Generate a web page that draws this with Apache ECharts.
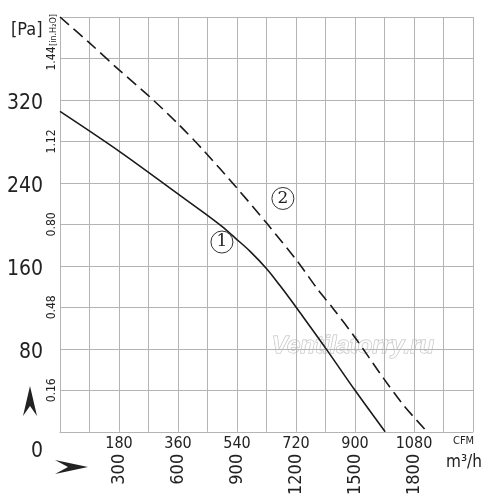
<!DOCTYPE html>
<html><head><meta charset="utf-8">
<script src="https://cdn.jsdelivr.net/npm/echarts@6/dist/echarts.min.js"></script>
<style>html,body{margin:0;padding:0;background:#fff}#c{width:500px;height:498px}</style>
</head><body><div id="c"></div>
<script>
// Flow in CFM, pressure in Pa
var curve1Flow = [0, 183, 366, 427, 494, 534, 580, 631, 671, 702, 732, 814, 900, 992];
var curve1Pa   = [309, 270, 228, 214, 198, 187, 174, 157, 141, 128, 115, 79, 40, 0];
var curve2Flow = [0, 90, 180, 274, 360, 436, 540, 631, 723, 787, 833, 900, 986, 1050, 1120];
var curve2Pa   = [400, 375, 349, 323, 297, 272, 235, 201, 165, 137, 119, 91, 52, 25, 0];
var paTicks    = [0, 80, 160, 240, 320];
var inchTickPa = [40, 120, 200, 280, 360];
var inchLabels = ['0.16', '0.48', '0.80', '1.12', '1.44'];
var cfmTicks   = [180, 360, 540, 720, 900, 1080];
var m3hLabels  = ['300', '600', '900', '1200', '1500', '1800'];
var curveNames = ['1', '2'];
var labelPos   = [[494, 183], [680, 225]];

var FONT = "'Liberation Sans Narrow','DejaVu Sans Condensed','Liberation Sans',sans-serif";
function zip(a, b) { return a.map(function (v, i) { return [v, b[i]]; }); }

var chart = echarts.init(document.getElementById('c'));
var gridColor = '#b4b4b4';
chart.setOption({
  animation: false,
  backgroundColor: '#fff',
  grid: { left: 60, right: 27, top: 17, bottom: 66 },
  xAxis: [{
    type: 'value', min: 0, max: 1260, interval: 90,
    axisLine: { lineStyle: { color: gridColor } }, axisTick: { show: false },
    splitLine: { show: true, lineStyle: { color: gridColor, width: 1 } },
    axisLabel: { margin: 4, fontFamily: FONT, fontSize: 16, color: '#222',
      formatter: function (v) { return cfmTicks.indexOf(v) >= 0 ? String(v) : ''; } }
  }, {
    type: 'value', min: 0, max: 1260, interval: 90, position: 'bottom',
    axisLine: { show: false }, axisTick: { show: false }, splitLine: { show: false },
    axisLabel: { margin: 22, rotate: 90, fontFamily: FONT, fontSize: 18, color: '#222',
      formatter: function (v) { var i = cfmTicks.indexOf(v); return i >= 0 ? m3hLabels[i] : ''; } }
  }],
  yAxis: [{
    type: 'value', min: 0, max: 400, interval: 40,
    axisLine: { show: true, lineStyle: { color: gridColor } }, axisTick: { show: false },
    splitLine: { show: true, lineStyle: { color: gridColor, width: 1 } },
    axisLabel: { margin: 17, fontFamily: FONT, fontSize: 21, color: '#222',
      formatter: function (v) {
        if (v === 0) return '{z|0}';
        return paTicks.indexOf(v) >= 0 ? '{p|' + v + '}' : '';
      },
      rich: { z: { fontFamily: FONT, fontSize: 21, color: '#222', padding: [40, 0, 0, 0] },
              p: { fontFamily: FONT, fontSize: 21, color: '#222', padding: [8, 0, 0, 0] } } }
  }, {
    type: 'value', min: 0, max: 400, interval: 40, position: 'left',
    axisLine: { show: false }, axisTick: { show: false }, splitLine: { show: false },
    axisLabel: { margin: 2, rotate: 90, fontFamily: FONT, fontSize: 12, color: '#222',
      formatter: function (v) { var i = inchTickPa.indexOf(v); return i >= 0 ? inchLabels[i] : ''; } }
  }],
  series: [{
    name: curveNames[0], type: 'line', smooth: 0.35, symbol: 'none',
    data: zip(curve1Flow, curve1Pa),
    lineStyle: { color: '#1a1a1a', width: 1.6 },
    markPoint: { symbol: 'circle', symbolSize: 22,
      itemStyle: { color: '#fff', borderColor: '#333', borderWidth: 1 },
      label: { show: true, formatter: curveNames[0], color: '#222', fontSize: 17, fontFamily: "'DejaVu Serif',serif" },
      data: [{ coord: labelPos[0] }] }
  }, {
    name: curveNames[1], type: 'line', smooth: 0.3, symbol: 'none',
    data: zip(curve2Flow, curve2Pa),
    lineStyle: { color: '#1a1a1a', width: 1.6, type: [12, 6] },
    markPoint: { symbol: 'circle', symbolSize: 22,
      itemStyle: { color: '#fff', borderColor: '#333', borderWidth: 1 },
      label: { show: true, formatter: curveNames[1], color: '#222', fontSize: 17, fontFamily: "'DejaVu Serif',serif" },
      data: [{ coord: labelPos[1] }] }
  }],
  graphic: [
    { type: 'text', left: 11, top: 21, style: { text: '[Pa]', fontFamily: FONT, fontSize: 18, fill: '#222' } },
    { type: 'text', x: 58, y: 46, rotation: Math.PI / 2,
      style: { text: '[in.H\u2082O]', fontFamily: FONT, fontSize: 9, fill: '#222', textAlign: 'left', textVerticalAlign: 'bottom' } },
    { type: 'text', left: 453, top: 436, style: { text: 'CFM', fontFamily: FONT, fontSize: 11, fill: '#222' } },
    { type: 'text', left: 446, top: 454, style: { text: 'm\u00b3/h', fontFamily: FONT, fontSize: 17, fill: '#222' } },
    { type: 'polygon', shape: { points: [[30, 386], [37, 416], [30, 406], [23, 416]] }, style: { fill: '#222' } },
    { type: 'polygon', shape: { points: [[88, 467], [55, 460], [68, 467], [55, 474]] }, style: { fill: '#222' } },
    { type: 'text', x: 353, y: 346, z: 0,
      style: { text: 'Ventilatorry.ru', fontFamily: "'Liberation Sans',sans-serif", fontStyle: 'italic', fontWeight: 'bold', fontSize: 24,
        fill: 'rgba(255,255,255,0.7)', stroke: '#bdbdbd', lineWidth: 1, textAlign: 'center', textVerticalAlign: 'middle' } }
  ]
});
</script></body></html>
